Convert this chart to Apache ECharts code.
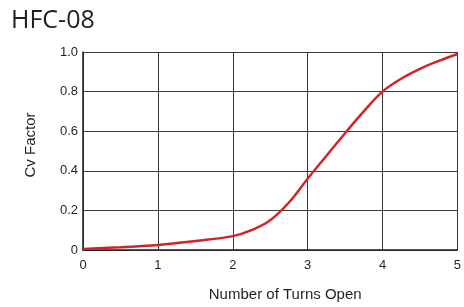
<!DOCTYPE html>
<html>
<head>
<meta charset="utf-8">
<script src="https://cdn.jsdelivr.net/npm/echarts@6/dist/echarts.min.js"></script>
<style>
  html, body { margin: 0; padding: 0; background: #fff; }
  #main { width: 464px; height: 307px; }
</style>
</head>
<body>
<div id="main"></div>
<script>
// turns open vs Cv factor
var turns = [0, 0.5, 1, 1.5, 2, 2.25, 2.5, 2.75, 3, 3.25, 3.5, 3.75, 4, 4.25, 4.5, 4.75, 5];
var cvFactor = [0.005, 0.014, 0.025, 0.045, 0.07, 0.1, 0.15, 0.24, 0.36, 0.475, 0.59, 0.7, 0.8, 0.865, 0.915, 0.955, 0.99];
var xTicks = ['0', '1', '2', '3', '4', '5'];
var yTicks = ['0', '0.2', '0.4', '0.6', '0.8', '1.0'];

var chart = echarts.init(document.getElementById('main'), null, { renderer: 'canvas' });

var points = turns.map(function (t, i) { return [t, cvFactor[i]]; });

var option = {
  animation: false,
  title: {
    text: 'HFC-08',
    left: 6,
    top: 3,
    textStyle: {
      fontFamily: 'Open Sans',
      fontSize: 25,
      fontWeight: 'normal',
      color: '#231f20'
    }
  },
  grid: {
    left: 83,
    top: 52,
    width: 376,
    height: 200
  },
  xAxis: {
    type: 'value',
    min: 0,
    max: 5,
    interval: 1,
    name: 'Number of Turns Open',
    nameLocation: 'middle',
    nameGap: 37,
    nameTextStyle: {
      fontFamily: 'Liberation Sans',
      fontSize: 15,
      color: '#231f20',
      padding: [0, 0, 0, 30]
    },
    axisLine: { lineStyle: { color: '#231f20', width: 1.5 } },
    axisTick: { show: false },
    axisLabel: {
      margin: 9,
      fontFamily: 'Liberation Sans',
      fontSize: 13,
      color: '#231f20',
      formatter: function (v) { return xTicks[Math.round(v)]; }
    },
    splitLine: { show: true, lineStyle: { color: '#3a3a3a', width: 1 } }
  },
  yAxis: {
    type: 'value',
    min: 0,
    max: 1,
    interval: 0.2,
    name: 'Cv Factor',
    nameLocation: 'middle',
    nameGap: 45,
    nameTextStyle: {
      fontFamily: 'Liberation Sans',
      fontSize: 15,
      color: '#231f20',
      padding: [0, 0, 0, 12]
    },
    axisLine: { show: true, lineStyle: { color: '#231f20', width: 1.5 } },
    axisTick: { show: false },
    axisLabel: {
      margin: 5,
      fontFamily: 'Liberation Sans',
      fontSize: 13,
      color: '#231f20',
      formatter: function (v) { return yTicks[Math.round(v * 5)]; }
    },
    splitLine: { show: true, lineStyle: { color: '#3a3a3a', width: 1 } }
  },
  series: [
    {
      type: 'line',
      data: points,
      smooth: 0.4,
      showSymbol: false,
      lineStyle: { color: '#d2232a', width: 2.5 }
    }
  ]
};

chart.setOption(option);
</script>
</body>
</html>
